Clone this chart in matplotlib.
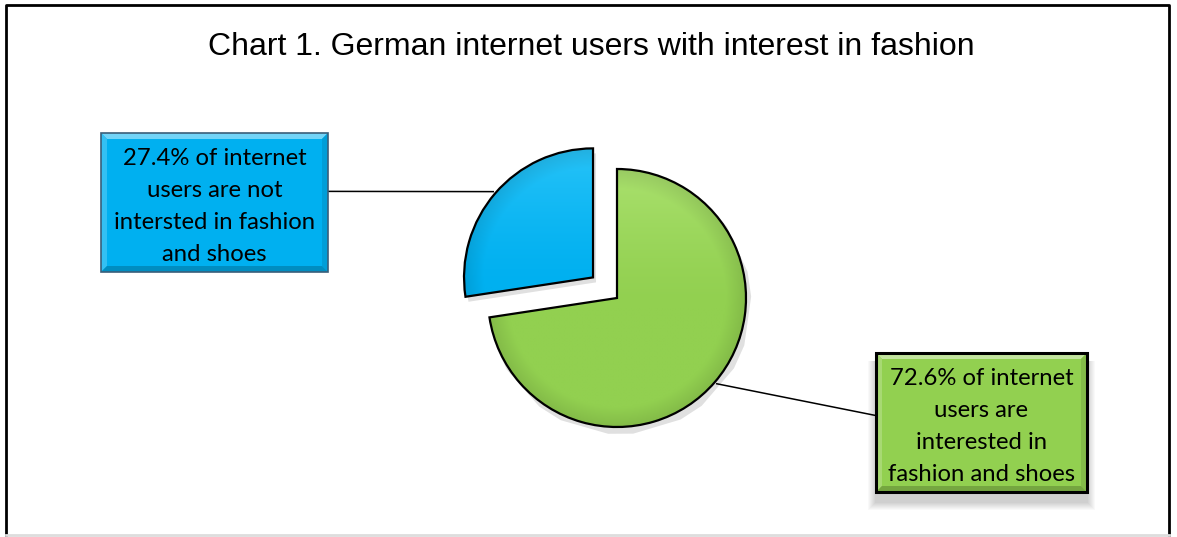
import numpy as np
import matplotlib.pyplot as plt
from matplotlib.patches import Rectangle, Polygon
from matplotlib.colors import to_rgb

# Share of German internet users interested in fashion and shoes
shares = [72.6, 27.4]
share_texts = [
    "{v}% of internet\nusers are\ninterested in\nfashion and shoes",
    "{v}% of internet\nusers are not\nintersted in fashion\nand shoes",
]
slice_colors = ["#92D050", "#00B0F0"]
slice_highlights = ["#BFF088", "#4AD4FF"]
title = "Chart 1. German internet users with interest in fashion"

W, H = 1177, 537
fig = plt.figure(figsize=(W / 100, H / 100), dpi=100)
ax = fig.add_axes([0, 0, 1, 1])

center = (617, 239)
radius = 129
explode = [0, 0.245 * radius]

wedges, _ = ax.pie(
    shares,
    colors=slice_colors,
    startangle=90,
    counterclock=False,
    explode=explode,
    center=center,
    radius=radius,
    wedgeprops=dict(edgecolor="black", linewidth=1.6),
)
ax.set_xlim(0, W)
ax.set_ylim(0, H)
ax.set_aspect("auto")
ax.axis("off")


def shade_wedge(wedge, base, light):
    # soft top-lit gradient clipped to the wedge outline
    cx, cy = wedge.center
    r = wedge.r
    n = 200
    yy, xx = np.mgrid[1:-1:n * 1j, -1:1:n * 1j]
    t = np.clip(0.6 * (yy - 0.1) + 0.1, 0, 1) ** 1.4
    rim = np.clip(np.hypot(xx, yy) - 0.85, 0, 0.15) / 0.15
    b, l = np.array(to_rgb(base)), np.array(to_rgb(light))
    img = b[None, None, :] * (1 - t[..., None]) + l[None, None, :] * t[..., None]
    img = img * (1 - 0.10 * rim[..., None])
    im = ax.imshow(np.clip(img, 0, 1), extent=(cx - r, cx + r, cy - r, cy + r),
                   origin="upper", zorder=wedge.get_zorder() - 0.1, interpolation="bilinear")
    im.set_clip_path(wedge)
    wedge.set_facecolor("none")


for w, c, hl in zip(wedges, slice_colors, slice_highlights):
    # faint drop shadow under each slice
    ax.add_patch(Polygon(w.get_patch_transform().transform(w.get_path().vertices) + [3, -5],
                         closed=True, facecolor="#000000", alpha=0.12, edgecolor="none", zorder=0.5))
    w.set_zorder(2)
    shade_wedge(w, c, hl)

# label boxes (x0, y0, width, height)
boxes = [(876, 45, 211, 139), (101, 265, 227, 139)]
box_edges = ["#000000", "#3A5F7A"]
box_lw = [2.2, 1.2]


def bevel_box(x0, y0, bw, bh, base, edge, lw, shadow):
    if shadow:
        for k in range(8):
            ax.add_patch(Rectangle((x0 - 8 + k, y0 - 18 + k), bw + 16 - 2 * k, bh + 10 - k,
                                   facecolor="#000000", alpha=0.025, edgecolor="none", zorder=3))
    ax.add_patch(Rectangle((x0, y0), bw, bh, facecolor=base, edgecolor="none", zorder=4))
    b = np.array(to_rgb(base))
    d = 6
    ax.add_patch(Polygon([(x0, y0 + bh), (x0 + bw, y0 + bh), (x0 + bw - d, y0 + bh - d), (x0 + d, y0 + bh - d)],
                         facecolor=np.clip(b + (1 - b) * 0.45, 0, 1), edgecolor="none", zorder=4.1))
    ax.add_patch(Polygon([(x0, y0), (x0, y0 + bh), (x0 + d, y0 + bh - d), (x0 + d, y0 + d)],
                         facecolor=np.clip(b + (1 - b) * 0.2, 0, 1), edgecolor="none", zorder=4.1))
    ax.add_patch(Polygon([(x0 + bw, y0), (x0 + bw, y0 + bh), (x0 + bw - d, y0 + bh - d), (x0 + bw - d, y0 + d)],
                         facecolor=b * 0.9, edgecolor="none", zorder=4.1))
    ax.add_patch(Polygon([(x0, y0), (x0 + bw, y0), (x0 + bw - d, y0 + d), (x0 + d, y0 + d)],
                         facecolor=b * 0.8, edgecolor="none", zorder=4.1))
    ax.add_patch(Rectangle((x0, y0), bw, bh, facecolor="none", edgecolor=edge, linewidth=lw, zorder=4.2))


for i, (w, v, txt, c) in enumerate(zip(wedges, shares, share_texts, slice_colors)):
    x0, y0, bw, bh = boxes[i]
    bevel_box(x0, y0, bw, bh, c, box_edges[i], box_lw[i], shadow=(i == 0))
    ax.text(x0 + bw / 2, y0 + bh / 2 - 4, txt.format(v=v), ha="center", va="center",
            fontsize=17.2, family="Lato", linespacing=1.66, zorder=5)

    # leader line from the slice mid-angle to the box side
    ang = np.deg2rad((w.theta1 + w.theta2) / 2)
    px = w.center[0] + 1.02 * w.r * np.cos(ang)
    py = w.center[1] + 1.02 * w.r * np.sin(ang)
    bx = x0 if px < x0 else x0 + bw
    by = y0 + bh * (0.55 if i == 0 else 0.58)
    ax.plot([px, bx], [py, by], color="black", linewidth=1.1, zorder=1.5)

ax.text(591, 490, title, ha="center", va="center", fontsize=23, family="Liberation Sans")

# chart frame, open at the bottom edge
ax.plot([6, 6, 1169, 1169], [-5, 532, 532, -5], color="black", linewidth=2, zorder=6)
ax.plot([6, 1169], [2, 2], color="#DDDDDD", linewidth=2, zorder=6)

fig.savefig("out.png", dpi=100)
